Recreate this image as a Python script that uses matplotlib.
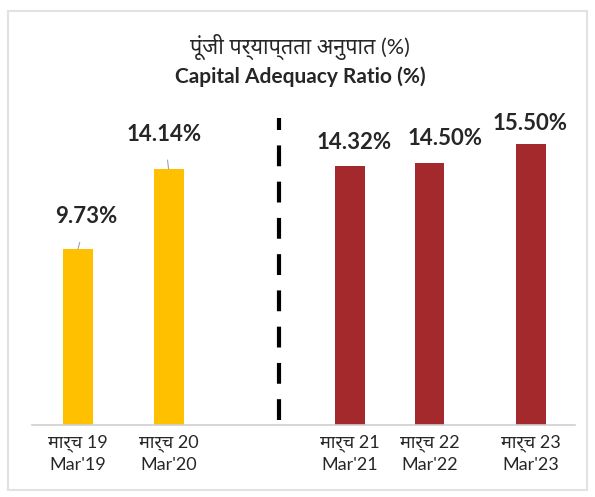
import matplotlib
matplotlib.use("Agg")
import matplotlib.pyplot as plt
from matplotlib.patches import Rectangle

plt.rcParams['font.family'] = ['Lato', 'Noto Sans', 'DejaVu Sans']

# data
hindi_labels = ['मार्च 19', 'मार्च 20', 'मार्च 21', 'मार्च 22', 'मार्च 23']
eng_labels = ["Mar'19", "Mar'20", "Mar'21", "Mar'22", "Mar'23"]
ratio = [9.73, 14.14, 14.32, 14.50, 15.50]
bar_colors = ['#FFC000', '#FFC000', '#A3292D', '#A3292D', '#A3292D']

title_hi = 'पूंजी पर्याप्तता अनुपात (%)'
title_en = 'Capital Adequacy Ratio (%)'

# layout
xpos = [0, 1, 3, 3.88, 5]
label_offsets = [(6, 23), (-3, 25), (3, 17), (11, 17), (-1, 15)]
leader = [True, True, False, False, False]

fig = plt.figure(figsize=(5.95, 4.97), dpi=100)
ax = fig.add_axes([32 / 595, 72 / 497, 543 / 595, 325.8 / 497])

ax.bar(xpos, ratio, width=0.33, color=bar_colors, zorder=2)

for x, v, off, ld in zip(xpos, ratio, label_offsets, leader):
    ap = dict(arrowstyle='-', color='#9aa4b8', lw=0.8, shrinkA=9, shrinkB=0) if ld else None
    ax.annotate(f'{v:.2f}%', xy=(x, v), xytext=off, textcoords='offset points',
                ha='center', va='center', fontsize=16, fontweight='bold',
                color='#262626', arrowprops=ap)

# dashed separator
ax.plot([2.22, 2.22], [0.3, 16.95], color='black', lw=3,
        linestyle=(0, (5.0, 3.7)), zorder=3)

ax.set_xlim(-0.508, 5.486)
ax.set_ylim(0, 18)
ax.set_xticks(xpos)
ax.set_xticklabels([f'{h}\n{e}' for h, e in zip(hindi_labels, eng_labels)],
                   fontsize=13, color='#262626', linespacing=1.35)
ax.tick_params(axis='x', length=0, pad=7)
ax.set_yticks([])
for s in ['top', 'right', 'left']:
    ax.spines[s].set_visible(False)
ax.spines['bottom'].set_color('#d0d0d0')
ax.spines['bottom'].set_linewidth(1.2)

fig.text(0.504, 1 - 47 / 497, title_hi, ha='center', va='center',
         fontsize=15.5, color='#262626')
fig.text(0.504, 1 - 77 / 497, title_en, ha='center', va='center',
         fontsize=15, fontweight='bold', color='#262626')

# light frame round the picture
fig.patches.append(Rectangle((8 / 595, 7 / 497), 579 / 595, 479 / 497,
                             transform=fig.transFigure, fill=False,
                             edgecolor='#e2e2e2', lw=1.5))

fig.savefig('out.png', dpi=100)
